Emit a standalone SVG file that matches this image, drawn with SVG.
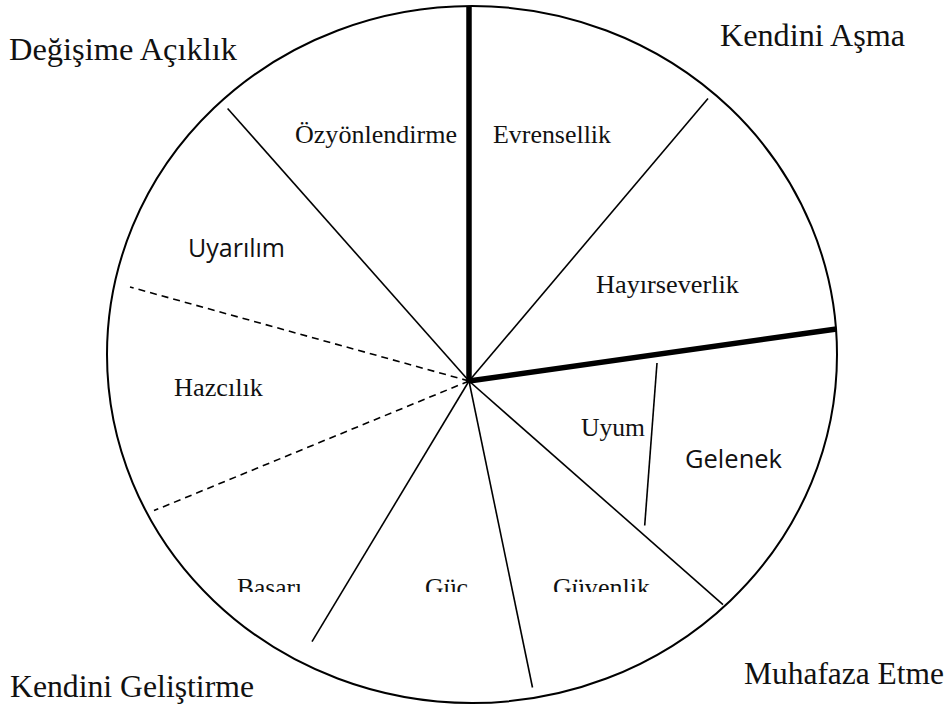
<svg xmlns="http://www.w3.org/2000/svg" width="948" height="709" viewBox="0 0 948 709">
<style>
.serif{font-family:"Liberation Serif","Times New Roman",serif;fill:#111}
.sans{font-family:"Open Sans","Liberation Sans",sans-serif;fill:#111}
.big{font-size:31.5px}
.mid{font-size:26px}
.thin{stroke:#000;stroke-width:1.6;fill:none;stroke-linecap:butt}
.thick{stroke:#000;stroke-width:5.5;fill:none}
.dash{stroke:#000;stroke-width:1.6;fill:none;stroke-dasharray:7 5}
</style>
<defs>
<clipPath id="cut"><rect x="0" y="0" width="948" height="592"/></clipPath>
</defs>
<rect width="948" height="709" fill="#fff"/>
<g id="circle">
<ellipse cx="472" cy="354.5" rx="365" ry="348.5" fill="none" stroke="#000" stroke-width="2"/>
</g>
<g id="connectors">
<line class="thick" x1="469" y1="383" x2="469" y2="6"/>
<line class="thick" x1="469" y1="381" x2="836.5" y2="329"/>
<line class="thin" x1="469" y1="381" x2="708" y2="98.5"/>
<line class="thin" x1="469" y1="381" x2="227.6" y2="108.5"/>
<line class="dash" x1="469" y1="381" x2="130" y2="287"/>
<line class="dash" x1="469" y1="381" x2="154" y2="510.6"/>
<line class="thin" x1="469" y1="381" x2="312" y2="641.7"/>
<line class="thin" x1="469" y1="381" x2="532.5" y2="687.5"/>
<line class="thin" x1="469" y1="381" x2="723" y2="604.6"/>
<line class="thin" x1="657" y1="363" x2="644.7" y2="525.5"/>
</g>
<g id="label-degisime"><text class="serif big" x="9" y="60" textLength="228" lengthAdjust="spacingAndGlyphs">Değişime Açıklık</text></g>
<g id="label-kendini-asma"><text class="serif big" x="720" y="46" textLength="185" lengthAdjust="spacingAndGlyphs">Kendini Aşma</text></g>
<g id="label-muhafaza"><text class="serif big" x="744" y="684" textLength="200" lengthAdjust="spacingAndGlyphs">Muhafaza Etme</text></g>
<g id="label-kendini-gelistirme"><text class="serif big" x="10" y="697" textLength="244" lengthAdjust="spacingAndGlyphs">Kendini Geliştirme</text></g>
<g id="node-ozyonlendirme"><text class="serif mid" x="295" y="143" textLength="162" lengthAdjust="spacingAndGlyphs">Özyönlendirme</text></g>
<g id="node-evrensellik"><text class="serif mid" x="493" y="143" textLength="118" lengthAdjust="spacingAndGlyphs">Evrensellik</text></g>
<g id="node-uyarilim"><text class="sans" font-size="25" x="188" y="257" textLength="97" lengthAdjust="spacingAndGlyphs">Uyarılım</text></g>
<g id="node-hayirseverlik"><text class="serif mid" x="596" y="293" textLength="143" lengthAdjust="spacingAndGlyphs">Hayırseverlik</text></g>
<g id="node-hazcilik"><text class="serif mid" x="174" y="396" textLength="89" lengthAdjust="spacingAndGlyphs">Hazcılık</text></g>
<g id="node-uyum"><text class="serif mid" x="581" y="436" textLength="64" lengthAdjust="spacingAndGlyphs">Uyum</text></g>
<g id="node-gelenek"><text class="sans" font-size="25" x="685" y="468" textLength="97" lengthAdjust="spacingAndGlyphs">Gelenek</text></g>
<g id="node-basari" clip-path="url(#cut)"><text class="serif mid" x="237" y="596" textLength="65" lengthAdjust="spacingAndGlyphs">Basarı</text></g>
<g id="node-guc" clip-path="url(#cut)"><text class="serif mid" x="425" y="596" textLength="43" lengthAdjust="spacingAndGlyphs">Güc</text></g>
<g id="node-guvenlik" clip-path="url(#cut)"><text class="serif mid" x="553" y="596" textLength="97" lengthAdjust="spacingAndGlyphs">Güvenlik</text></g>
</svg>
